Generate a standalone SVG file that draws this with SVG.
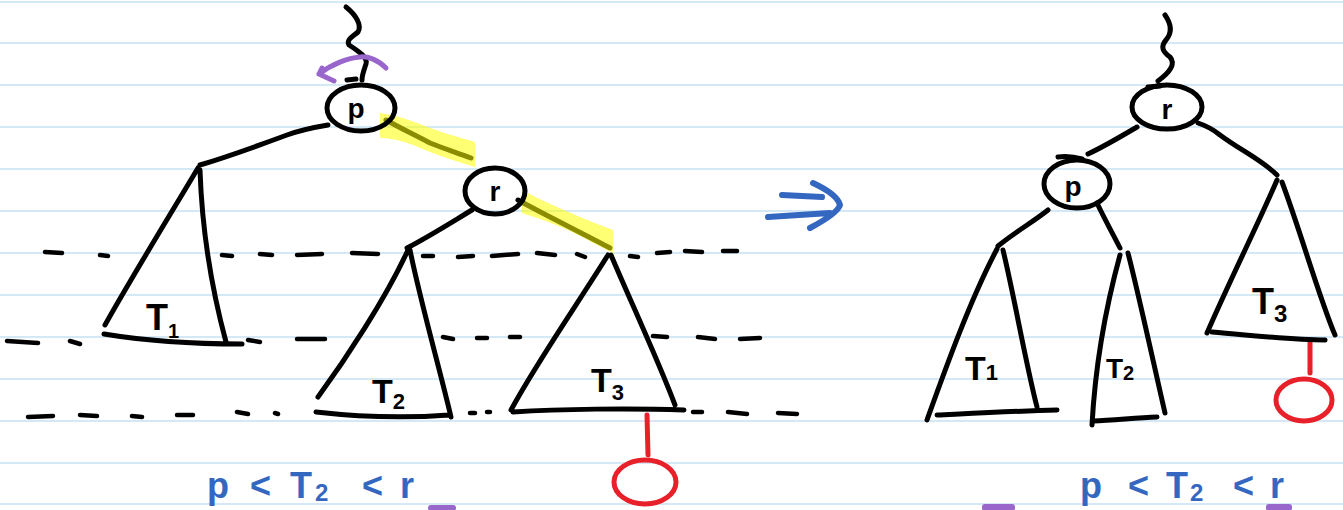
<svg xmlns="http://www.w3.org/2000/svg" width="1343" height="510" viewBox="0 0 1343 510">
<style>
.paper{stroke:#d5e8f6;stroke-width:2;fill:none}
.ink{stroke:#000;stroke-width:5;fill:none;stroke-linecap:round;stroke-linejoin:round}
.dash{stroke:#000;stroke-width:4.5;fill:none;stroke-linecap:round}
.red{stroke:#e8202a;stroke-width:5;fill:none;stroke-linecap:round}
.blue{stroke:#3467c0;stroke-width:6;fill:none;stroke-linecap:round;stroke-linejoin:round}
.purple{stroke:#9966cc;stroke-width:5;fill:none;stroke-linecap:round;stroke-linejoin:round}
.hl{fill:#ffff00;opacity:0.55}
.lbl{font-family:"Liberation Sans",Arial,sans-serif;font-weight:bold;fill:#000}
.btxt{font-family:"Liberation Sans",Arial,sans-serif;font-weight:bold;fill:#3467c0}
</style>
<rect width="1343" height="510" fill="#fff"/>
<g id="paper">
<path class="paper" d="M0 2H1343M0 43H1343M0 85H1343M0 127H1343M0 169H1343M0 211H1343M0 253H1343M0 295H1343M0 337H1343M0 379H1343M0 421H1343M0 463H1343M0 504H1343"/>
</g>
<g id="levels">
<path class="dash" d="M45 252L62 253M100 255L108 256M222 255L232 256M260 254L272 255M297 255L322 254M352 253L378 254M423 256L433 256M458 257L473 256M492 256L518 254M537 253L555 255M577 254L585 257M630 256L638 257M657 253L670 252M685 251L702 252M723 251L737 251"/>
<path class="dash" d="M7 341L38 343M70 341L80 344M248 340L260 342M297 339L325 339M443 337L453 339M477 338L487 338M510 337L520 337M653 336L667 337M698 337L715 339M740 339L760 338"/>
<path class="dash" d="M28 417L53 416M80 415L97 416M132 416L142 417M177 415L193 415M237 412L248 414M275 413L278 414M470 413L475 413M487 412L490 412M693 412L702 412M728 412L747 414M778 413L797 414"/>
</g>
<g id="connectors">
<path class="ink" d="M346 7C356 15 362 25 358 32C352 37 346 40 349 45C360 52 368 58 366 64C364 70 362 75 362 80M347 80L356 79"/>
<path class="ink" d="M328 125C310 128 298 131 287 135C260 145 230 156 200 165"/>
<path class="ink" d="M386 120C400 128 415 135 430 143C445 149 458 153 471 158"/>
<path class="ink" d="M472 210C452 222 430 236 407 248"/>
<path class="ink" d="M518 200C545 215 580 232 610 248"/>
<path class="ink" d="M1165 15C1172 25 1172 33 1166 40C1160 47 1163 52 1170 57C1176 64 1170 72 1158 81M1148 87L1160 86"/>
<path class="ink" d="M1137 127C1120 137 1105 146 1088 154"/>
<path class="ink" d="M1198 123C1207 126 1214 130 1220 135C1240 150 1262 160 1277 175"/>
<path class="ink" d="M1048 210C1033 222 1015 232 998 246"/>
<path class="ink" d="M1097 203C1105 220 1113 234 1120 248"/>
<path class="purple" d="M386 68C378 60 368 56 360 57C348 58 332 64 319 74M319 74L334 81M319 74L322 68"/>
<path class="red" d="M647 415L648 455"/>
<path class="red" d="M1310 343L1310 373"/>
<path class="blue" d="M782 195L822 197M768 217L830 213M813 183C828 190 838 197 840 205C838 212 825 220 810 228"/>
</g>
<g id="highlights">
<path class="hl" d="M380 113C395 115 410 120 425 126C440 132 458 137 475 142L475 167C458 162 440 156 425 150C410 143 395 138 380 138Z"/>
<path class="hl" d="M522 190C540 200 560 208 580 217C595 223 605 227 613 230L613 253C600 247 585 238 570 231C555 224 538 218 522 213Z"/>
</g>
<g id="node-p-left">
<ellipse class="ink" cx="361" cy="108" rx="34" ry="23"/>
<text class="lbl" x="356" y="118" font-size="28" text-anchor="middle">p</text>
</g>
<g id="node-r-left">
<ellipse class="ink" cx="495" cy="191" rx="30" ry="23"/>
<text class="lbl" x="495" y="201" font-size="28" text-anchor="middle">r</text>
</g>
<g id="tree-T1-left">
<path class="ink" d="M198 168C170 215 130 280 105 325M200 170C202 230 212 290 226 342M104 334C140 340 190 344 242 344"/>
<text class="lbl" x="146" y="330" font-size="36">T<tspan font-size="20" dy="8">1</tspan></text>
</g>
<g id="tree-T2-left">
<path class="ink" d="M408 250C385 300 345 360 318 397M410 250C420 300 440 370 451 417M316 412C360 417 410 418 449 415"/>
<text class="lbl" x="372" y="403" font-size="34">T<tspan font-size="22" dy="6">2</tspan></text>
</g>
<g id="tree-T3-left">
<path class="ink" d="M608 255C580 300 535 365 511 410M611 255C630 300 658 360 675 405M513 412C560 409 630 408 684 410"/>
<text class="lbl" x="591" y="392" font-size="34">T<tspan font-size="22" dy="8">3</tspan></text>
</g>
<g id="leaf-left">
<ellipse class="red" cx="645" cy="482" rx="31" ry="22"/>
</g>
<g id="node-r-right">
<ellipse class="ink" cx="1167" cy="107" rx="35" ry="22"/>
<text class="lbl" x="1167" y="119" font-size="28" text-anchor="middle">r</text>
</g>
<g id="node-p-right">
<ellipse class="ink" cx="1077" cy="184" rx="33" ry="24"/>
<path class="ink" d="M1058 157C1066 156 1075 157 1082 159"/>
<text class="lbl" x="1073" y="196" font-size="28" text-anchor="middle">p</text>
</g>
<g id="tree-T1-right">
<path class="ink" d="M997 249C970 300 945 370 927 420M1003 250C1015 300 1025 360 1037 407M937 415C980 413 1020 411 1057 410"/>
<text class="lbl" x="965" y="380" font-size="34">T<tspan font-size="22">1</tspan></text>
</g>
<g id="tree-T2-right">
<path class="ink" d="M1120 255C1105 310 1095 370 1092 425M1128 253C1140 300 1155 370 1165 413M1093 421C1115 420 1135 418 1157 417"/>
<text class="lbl" x="1106" y="378" font-size="28">T<tspan font-size="20" dy="2">2</tspan></text>
</g>
<g id="tree-T3-right">
<path class="ink" d="M1277 180C1260 220 1230 280 1207 333M1282 182C1300 230 1320 300 1335 335M1212 332C1250 335 1290 340 1325 340"/>
<text class="lbl" x="1252" y="314" font-size="36">T<tspan font-size="24" dy="8">3</tspan></text>
</g>
<g id="leaf-right">
<ellipse class="red" cx="1304" cy="400" rx="28" ry="21"/>
</g>
<g id="notes">
<text class="btxt" y="498" font-size="36"><tspan x="207">p</tspan><tspan x="250">&lt;</tspan><tspan x="290">T</tspan><tspan x="315" font-size="24" dy="3">2</tspan><tspan x="362" dy="-3">&lt;</tspan><tspan x="400">r</tspan></text>
<text class="btxt" y="498" font-size="36"><tspan x="1080">p</tspan><tspan x="1128">&lt;</tspan><tspan x="1166">T</tspan><tspan x="1190" font-size="24" dy="3">2</tspan><tspan x="1233" dy="-3">&lt;</tspan><tspan x="1270">r</tspan></text>
<rect x="428" y="505" width="28" height="6" rx="3" fill="#9966cc"/>
<rect x="982" y="504" width="33" height="7" rx="3" fill="#9966cc"/>
<rect x="1266" y="504" width="26" height="7" rx="3" fill="#9966cc"/>
</g>
</svg>
